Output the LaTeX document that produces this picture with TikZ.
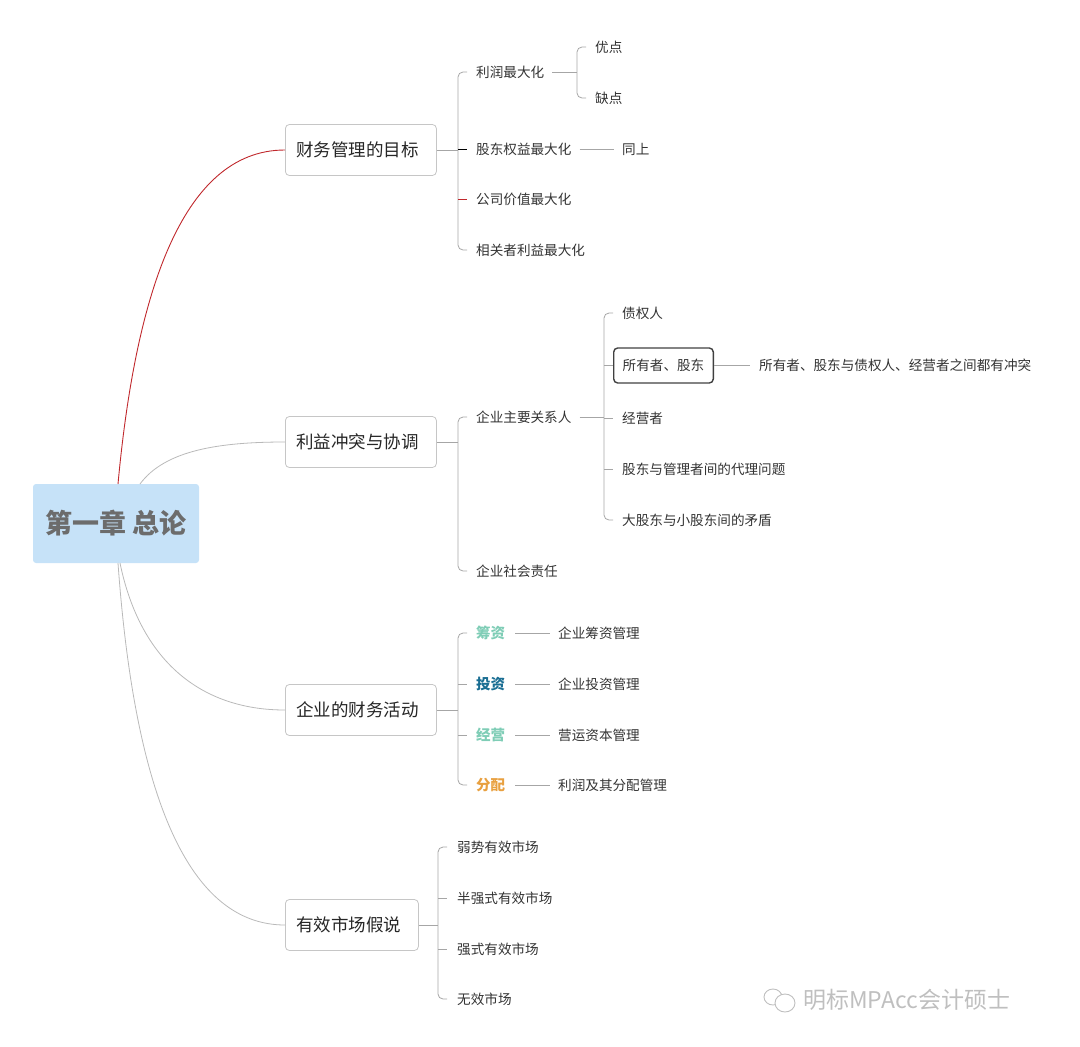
\documentclass[tikz,border=0pt]{standalone}
\usepackage{fontspec}
\setmainfont{Noto Sans CJK SC}
\begin{document}
\begin{tikzpicture}[x=1pt,y=-1pt,
  lk/.style={draw=gray!70,line width=0.8pt},
  leaf/.style={anchor=west,inner sep=0pt,text=black!80,font=\fontsize{13.6}{15}\selectfont},
  l1/.style={draw=gray!45,rounded corners=4pt,line width=0.8pt,minimum height=51pt,text width=#1,align=left,inner xsep=11pt,text=black!85,font=\fontsize{17.5}{20}\selectfont},
  act/.style={anchor=west,inner sep=0pt,font=\bfseries\fontsize{14.5}{16}\selectfont}]
\useasboundingbox (0,0) rectangle (1080,1047);
\definecolor{rootbg}{HTML}{C6E2F8}
\definecolor{c1}{HTML}{7FCDB6}
\definecolor{c2}{HTML}{1A6E93}
\definecolor{c3}{HTML}{E8A040}
\definecolor{red1}{HTML}{C0282C}
% root
\node[fill=rootbg,rounded corners=3pt,minimum width=166pt,minimum height=79pt,text=gray!85!black,font=\bfseries\fontsize{27}{30}\selectfont] (root) at (116,523.5) {第一章 总论};
% level 1
\node[l1=129pt,anchor=west] (a) at (285,150) {财务管理的目标};
\node[l1=129pt,anchor=west] (b) at (285,442) {利益冲突与协调};
\node[l1=129pt,anchor=west] (c) at (285,710) {企业的财务活动};
\node[l1=111pt,anchor=west] (d) at (285,925) {有效市场假说};
\draw[red1,line width=0.9pt] (118,484) .. controls (135,300) and (180,150) .. (a.west);
\draw[lk,draw=gray!55] (140,484) .. controls (165,450) and (220,442) .. (b.west);
\draw[lk,draw=gray!55] (120,563) .. controls (140,660) and (200,710) .. (c.west);
\draw[lk,draw=gray!55] (118,563) .. controls (135,800) and (190,925) .. (d.west);
% group 1
\node[leaf] (a1) at (476,72) {利润最大化};
\node[leaf] (a2) at (476,149) {股东权益最大化};
\node[leaf] (a3) at (476,199) {公司价值最大化};
\node[leaf] (a4) at (476,250) {相关者利益最大化};
\draw[lk] (a.east) -- (458,150);
\draw[lk,rounded corners=5pt] (467,72) -- (458,72) -- (458,250) -- (467,250);
\draw[black,line width=0.8pt] (458,149) -- (467,149);
\draw[red1,line width=0.8pt] (458,199) -- (467,199);
\node[leaf] (a11) at (595,47) {优点};
\node[leaf] (a12) at (595,98) {缺点};
\draw[lk] (a1.east) ++(8,0) -- (577,72);
\draw[lk,rounded corners=5pt] (586,47) -- (577,47) -- (577,98) -- (586,98);
\node[leaf] (a21) at (622,149) {同上};
\draw[lk] ([xshift=8pt]a2.east) -- ([xshift=-8pt]a21.west);
% group 2
\node[leaf] (b1) at (476,417) {企业主要关系人};
\node[leaf] (b2) at (476,571) {企业社会责任};
\draw[lk] (b.east) -- (458,442);
\draw[lk,rounded corners=5pt] (467,417) -- (458,417) -- (458,571) -- (467,571);
\node[leaf] (b11) at (622,313) {债权人};
\node[draw=black!75,line width=1.4pt,rounded corners=4pt,minimum height=35pt,inner xsep=9pt,text=black!80,font=\fontsize{13.6}{15}\selectfont,anchor=west] (b12) at (613,365.5) {所有者、股东};
\node[leaf] (b13) at (622,418) {经营者};
\node[leaf] (b14) at (622,469) {股东与管理者间的代理问题};
\node[leaf] (b15) at (622,520) {大股东与小股东间的矛盾};
\draw[lk] ([xshift=8pt]b1.east) -- (604,417);
\draw[lk,rounded corners=5pt] (613,313) -- (604,313) -- (604,520) -- (613,520);
\draw[lk] (604,365.5) -- (b12.west);
\draw[lk] (604,418) -- (613,418);
\draw[lk] (604,469) -- (613,469);
\node[leaf] (b121) at (759,365.5) {所有者、股东与债权人、经营者之间都有冲突};
\draw[lk] (b12.east) -- ([xshift=-9pt]b121.west);
% group 3
\node[act,text=c1] (c1n) at (476,633) {筹资};
\node[act,text=c2] (c2n) at (476,684) {投资};
\node[act,text=c1] (c3n) at (476,735) {经营};
\node[act,text=c3] (c4n) at (476,785) {分配};
\draw[lk] (c.east) -- (458,710);
\draw[lk,rounded corners=5pt] (467,633) -- (458,633) -- (458,785) -- (467,785);
\draw[lk] (458,684) -- (467,684);
\draw[lk] (458,735) -- (467,735);
\node[leaf] (c11) at (558,633) {企业筹资管理};
\node[leaf] (c21) at (558,684) {企业投资管理};
\node[leaf] (c31) at (558,735) {营运资本管理};
\node[leaf] (c41) at (558,785) {利润及其分配管理};
\foreach \p/\q in {c1n/c11,c2n/c21,c3n/c31,c4n/c41}
  \draw[lk] ([xshift=10pt]\p.east) -- ([xshift=-8pt]\q.west);
% group 4
\node[leaf] (d1) at (457,847) {弱势有效市场};
\node[leaf] (d2) at (457,898) {半强式有效市场};
\node[leaf] (d3) at (457,949) {强式有效市场};
\node[leaf] (d4) at (457,999) {无效市场};
\draw[lk] (d.east) -- (438,925);
\draw[lk,rounded corners=5pt] (447,847) -- (438,847) -- (438,999) -- (447,999);
\draw[lk] (438,898) -- (447,898);
\draw[lk] (438,949) -- (447,949);
% watermark
\begin{scope}[draw=gray!50,line width=0.9pt]
\draw (773,997) ellipse [x radius=9pt,y radius=8pt];
\draw[fill=white] (785,1003) ellipse [x radius=10pt,y radius=9pt];
\end{scope}
\node[anchor=west,inner sep=0pt,text=gray!50,font=\fontsize{23}{25}\selectfont] (wm) at (803,1000) {明标MPAcc会计硕士};
\end{tikzpicture}
\end{document}
